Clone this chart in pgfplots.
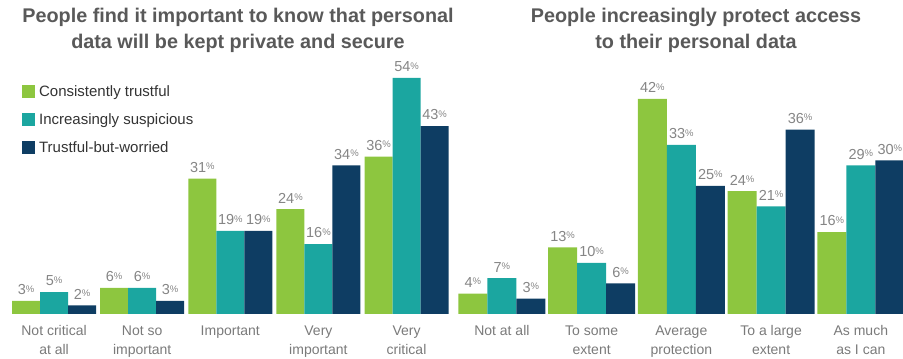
\documentclass[border=0pt]{standalone}
\usepackage{pgfplots}
\pgfplotsset{compat=1.18}
\usepackage{fontspec}
\setmainfont{Liberation Sans}
\definecolor{cgreen}{HTML}{8DC63F}
\definecolor{cteal}{HTML}{1BA6A0}
\definecolor{cnavy}{HTML}{0E3D63}
\definecolor{titlegray}{HTML}{595959}
\definecolor{labgray}{HTML}{7A7A7A}
\definecolor{valgray}{HTML}{858585}
\definecolor{leggray}{HTML}{333333}
\pgfplotsset{
  panel/.style={
    scale only axis, anchor=south west,
    /pgf/number format/assume math mode=true,
    ybar=0pt, ymin=0, xmin=-0.5, xmax=4.5,
    axis line style={draw=none}, major tick length=0pt,
    ytick=\empty, xtick={0,1,2,3,4},
    xticklabel style={align=center, font=\fontsize{14}{19}\selectfont, text=labgray, yshift=-8pt},
    nodes near coords={\pgfmathprintnumber{\pgfplotspointmeta}\raisebox{2.5pt}{\fontsize{9.5}{9.5}\selectfont\%}},
    nodes near coords style={font=\fontsize{14.5}{14.5}\selectfont, text=valgray, anchor=south, yshift=2.5pt},
    clip=false,
  },
}
\begin{document}
\begin{tikzpicture}[x=1pt,y=1pt]
\useasboundingbox (0,0) rectangle (903,359);
\node[font=\bfseries\fontsize{19.8}{26}\selectfont, text=titlegray, align=center] at (238,329)
  {People find it important to know that personal\\data will be kept private and secure};
\node[font=\bfseries\fontsize{19.8}{26}\selectfont, text=titlegray, align=center] at (696,329)
  {People increasingly protect access\\to their personal data};
\begin{axis}[panel, at={(10pt,45pt)}, width=440.6pt, height=271pt, ymax=62,
  bar width=28pt,
  xticklabels={{Not critical\\at all},{Not so\\important},{Important},{Very\\important},{Very\\critical}},
  legend style={at={(0.027,0.848)}, anchor=north west, draw=none, fill=none, inner sep=0pt,
    font=\fontsize{15}{15}\selectfont, text=leggray, row sep=13.5pt,
    nodes={inner sep=1pt}},
  legend cell align=left,
  legend image code/.code={\fill[#1] (0pt,-6.5pt) rectangle (13pt,6.5pt); \path (16pt,0pt);},
]
\addplot[fill=cgreen, draw=none] coordinates {(0,3) (1,6) (2,31) (3,24) (4,36)};
\addplot[fill=cteal, draw=none] coordinates {(0,5) (1,6) (2,19) (3,16) (4,54)};
\addplot[fill=cnavy, draw=none] coordinates {(0,2) (1,3) (2,19) (3,34) (4,43)};
\legend{Consistently trustful, Increasingly suspicious, Trustful-but-worried}
\end{axis}
\begin{axis}[panel, at={(457pt,45pt)}, width=448.7pt, height=271pt, ymax=52.9,
  bar width=29pt,
  xticklabels={{Not at all},{To some\\extent},{Average\\protection},{To a large\\extent},{As much\\as I can}},
]
\addplot[fill=cgreen, draw=none] coordinates {(0,4) (1,13) (2,42) (3,24) (4,16)};
\addplot[fill=cteal, draw=none] coordinates {(0,7) (1,10) (2,33) (3,21) (4,29)};
\addplot[fill=cnavy, draw=none] coordinates {(0,3) (1,6) (2,25) (3,36) (4,30)};
\end{axis}
\end{tikzpicture}
\end{document}
